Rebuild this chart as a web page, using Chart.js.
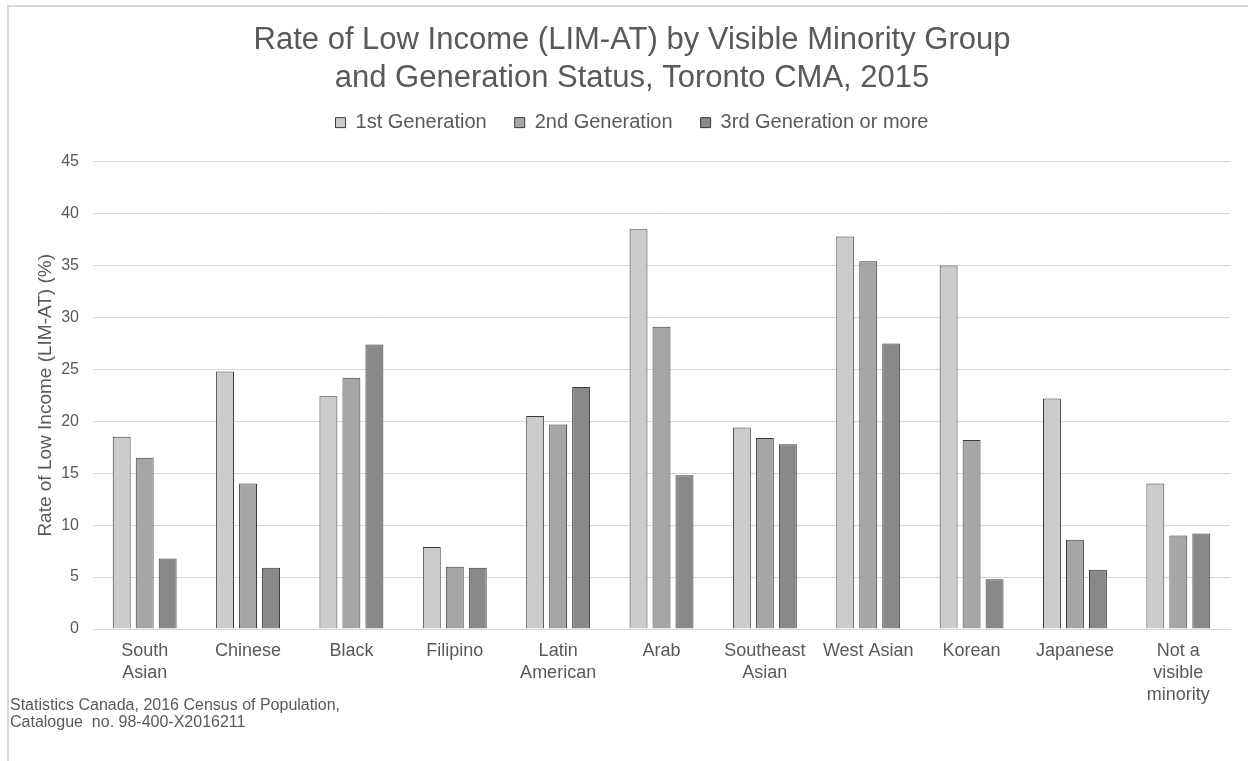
<!DOCTYPE html>
<html>
<head>
<meta charset="utf-8">
<script src="https://cdn.jsdelivr.net/npm/chart.js@4/dist/chart.umd.min.js"></script>
<style>
  html, body { margin: 0; padding: 0; background: #fff; }
  #wrap { position: relative; width: 1248px; height: 761px; overflow: hidden; }
  #frame { position: absolute; left: 7px; top: 5px; width: 1300px; height: 800px;
           border-left: 2px solid #d9d9d9; border-top: 2px solid #d9d9d9; }
  #source { position: absolute; left: 10px; top: 696px; font: 16px "Liberation Sans", Arial, sans-serif;
            color: #595959; line-height: 17px; }
  canvas { position: absolute; left: 0; top: 0; }
</style>
</head>
<body>
<div id="wrap">
  <div id="frame"></div>
  <canvas id="lowIncomeChart" width="1248" height="761"></canvas>
  <div id="source">Statistics Canada, 2016 Census of Population,<br>Catalogue&nbsp; no. 98-400-X2016211</div>
</div>
<script>
// categories (multi-line labels as arrays)
const groups = [
    ["South", "Asian"], "Chinese", "Black", "Filipino", ["Latin", "American"], "Arab",
    ["Southeast", "Asian"], "West Asian", "Korean", "Japanese", ["Not a", "visible", "minority"]
];

// rate of low income (%)
const firstGen  = [18.5, 24.8, 22.4, 7.9, 20.5, 38.5, 19.4, 37.8, 35.0, 22.2, 14.0];
const secondGen = [16.5, 14.0, 24.2, 6.0, 19.7, 29.1, 18.4, 35.4, 18.2, 8.6, 9.0];
const thirdGen  = [6.8, 5.9, 27.4, 5.9, 23.3, 14.8, 17.8, 27.5, 4.8, 5.7, 9.2];

const seriesNames = ["1st Generation", "2nd Generation", "3rd Generation or more"];

const textColor = "#595959";
const fontFamily = "'Liberation Sans', Arial, sans-serif";

// give the legend a bit more room below it
const legendSpacer = {
    id: "legendSpacer",
    beforeInit(chart) {
        const fit = chart.legend.fit;
        chart.legend.fit = function () {
            fit.bind(chart.legend)();
            this.height += 19;
        };
    }
};

function bar(label, data, color) {
    return {
        label: label,
        data: data,
        backgroundColor: color,
        borderColor: "#3a3a3a",
        borderWidth: 1,
        categoryPercentage: 0.667,
        barPercentage: 0.78
    };
}

new Chart(document.getElementById("lowIncomeChart"), {
    type: "bar",
    data: {
        labels: groups,
        datasets: [
            bar(seriesNames[0], firstGen, "#cccccc"),
            bar(seriesNames[1], secondGen, "#a6a6a6"),
            bar(seriesNames[2], thirdGen, "#898989")
        ]
    },
    plugins: [legendSpacer],
    options: {
        responsive: false,
        animation: false,
        layout: {
            padding: { left: 34, right: 18, top: 0, bottom: 0 }
        },
        plugins: {
            title: {
                display: true,
                text: ["Rate of Low Income (LIM-AT) by Visible Minority Group",
                       "and Generation Status, Toronto CMA, 2015"],
                color: textColor,
                font: { family: fontFamily, size: 31, weight: "normal", lineHeight: 1.22 },
                padding: { top: 22, bottom: -13 }
            },
            legend: {
                display: true,
                labels: {
                    color: textColor,
                    font: { family: fontFamily, size: 20 },
                    boxWidth: 10,
                    boxHeight: 10,
                    padding: 28
                }
            },
            tooltip: { enabled: false }
        },
        scales: {
            x: {
                grid: { display: false, drawTicks: false },
                border: { color: "#d9d9d9" },
                ticks: {
                    color: textColor,
                    font: { family: fontFamily, size: 18, lineHeight: 1.22 },
                    padding: 11,
                    maxRotation: 0,
                    autoSkip: false
                },
                afterFit(scale) {
                    scale.height = 132;
                }
            },
            y: {
                min: 0,
                max: 45,
                grid: { color: "#d9d9d9", drawTicks: false },
                border: { display: false },
                ticks: {
                    stepSize: 5,
                    color: textColor,
                    font: { family: fontFamily, size: 16 },
                    padding: 14
                },
                title: {
                    display: true,
                    text: "Rate of Low Income (LIM-AT) (%)",
                    color: textColor,
                    font: { family: fontFamily, size: 19 },
                    padding: 0
                },
                afterFit(scale) {
                    scale.width = 59;
                }
            }
        }
    }
});
</script>
</body>
</html>
